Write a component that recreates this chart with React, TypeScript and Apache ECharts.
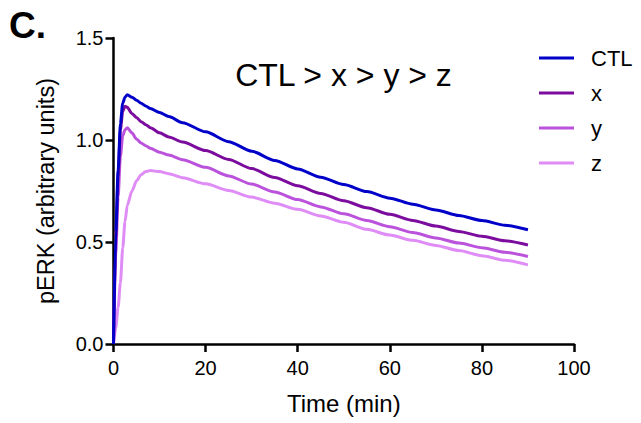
import React, { useEffect, useRef } from "react";
import * as echarts from "echarts";

const times = [0, 0.5, 1, 1.5, 2, 2.5, 3, 4, 5, 6, 7, 8, 10, 12, 15, 20, 25, 30, 35, 40, 45, 50, 55, 60, 65, 70, 75, 80, 85, 90];
const ctl = [0, 0.55, 0.85, 1.08, 1.18, 1.21, 1.222, 1.21, 1.195, 1.18, 1.167, 1.155, 1.135, 1.115, 1.085, 1.04, 0.992, 0.945, 0.9, 0.858, 0.818, 0.782, 0.747, 0.715, 0.685, 0.657, 0.63, 0.605, 0.582, 0.56];
const xs = [0, 0.52, 0.82, 1.05, 1.14, 1.166, 1.16, 1.13, 1.11, 1.09, 1.075, 1.06, 1.035, 1.015, 0.99, 0.948, 0.905, 0.86, 0.816, 0.776, 0.738, 0.702, 0.668, 0.636, 0.606, 0.578, 0.552, 0.528, 0.506, 0.485];
const ys = [0, 0.45, 0.72, 0.92, 1.02, 1.05, 1.06, 1.035, 1.005, 0.985, 0.972, 0.96, 0.94, 0.926, 0.903, 0.866, 0.824, 0.784, 0.745, 0.708, 0.672, 0.638, 0.605, 0.575, 0.546, 0.52, 0.495, 0.472, 0.45, 0.429];
const zs = [0, 0.08, 0.18, 0.3, 0.47, 0.6, 0.68, 0.75, 0.8, 0.83, 0.845, 0.85, 0.845, 0.835, 0.815, 0.785, 0.752, 0.72, 0.69, 0.66, 0.628, 0.597, 0.562, 0.534, 0.508, 0.483, 0.458, 0.433, 0.41, 0.388];

const seriesNames = ["CTL", "x", "y", "z"];
const seriesColors = ["#0000c8", "#7b0c9e", "#bb52dc", "#df8cf6"];
const seriesValues = [ctl, xs, ys, zs];

const xTicks = { min: 0, max: 100, interval: 20 };
const yTicks = { min: 0, max: 1.5, interval: 0.5 };

const FONT = "'Liberation Sans', Arial, Helvetica, sans-serif";

export default function App() {
  const ref = useRef<HTMLDivElement>(null);
  useEffect(() => {
    if (!ref.current) return;
    const chart = echarts.init(ref.current, null, { renderer: "svg" });
    const axisLine = { show: true, lineStyle: { color: "#000", width: 2.5 } };
    const axisTick = { show: true, inside: false, length: 8, lineStyle: { color: "#000", width: 2.5 } };
    chart.setOption({
      animation: false,
      backgroundColor: "#fff",
      textStyle: { fontFamily: FONT },
      grid: { left: 113.5, right: 67, top: 38, bottom: 79, containLabel: false },
      legend: {
        orient: "vertical",
        left: 534,
        top: 42,
        icon: "rect",
        itemWidth: 35,
        itemHeight: 3,
        itemGap: 13,
        textStyle: { fontSize: 22, color: "#000", fontFamily: FONT, padding: [0, 0, 0, 12] },
        data: seriesNames,
      },
      xAxis: {
        type: "value",
        min: xTicks.min,
        max: xTicks.max,
        interval: xTicks.interval,
        name: "Time (min)",
        nameLocation: "middle",
        nameGap: 47,
        nameTextStyle: { fontSize: 24, color: "#000", fontFamily: FONT },
        axisLine,
        axisTick,
        splitLine: { show: false },
        axisLabel: { fontSize: 20, color: "#000", margin: 14, fontFamily: FONT },
      },
      yAxis: {
        type: "value",
        min: yTicks.min,
        max: yTicks.max,
        interval: yTicks.interval,
        name: "pERK (arbitrary units)",
        nameLocation: "middle",
        nameGap: 56,
        nameTextStyle: { fontSize: 23.5, color: "#000", fontFamily: FONT },
        axisLine,
        axisTick,
        splitLine: { show: false },
        axisLabel: {
          fontSize: 20,
          color: "#000",
          margin: 10,
          fontFamily: FONT,
          formatter: (v: number) => v.toFixed(1),
        },
      },
      graphic: [
        {
          type: "text",
          left: 9,
          top: 7,
          style: { text: "C.", font: `bold 37px ${FONT}`, fill: "#000" },
        },
        {
          type: "text",
          x: 343.5,
          y: 75,
          style: {
            text: "CTL > x > y > z",
            font: `32px ${FONT}`,
            fill: "#000",
            align: "center",
            verticalAlign: "middle",
          },
        },
      ],
      series: seriesNames.map((name, i) => ({
        name,
        type: "line",
        data: times.map((t, j) => [t, seriesValues[i][j]]),
        showSymbol: false,
        smooth: 0.25,
        smoothMonotone: "x",
        lineStyle: { color: seriesColors[i], width: 3 },
        itemStyle: { color: seriesColors[i] },
        z: 10 - i,
      })),
    });
    return () => chart.dispose();
  }, []);
  return (
    <div
      ref={ref}
      style={{ position: "absolute", left: 0, top: 0, width: 641, height: 423 }}
    />
  );
}
